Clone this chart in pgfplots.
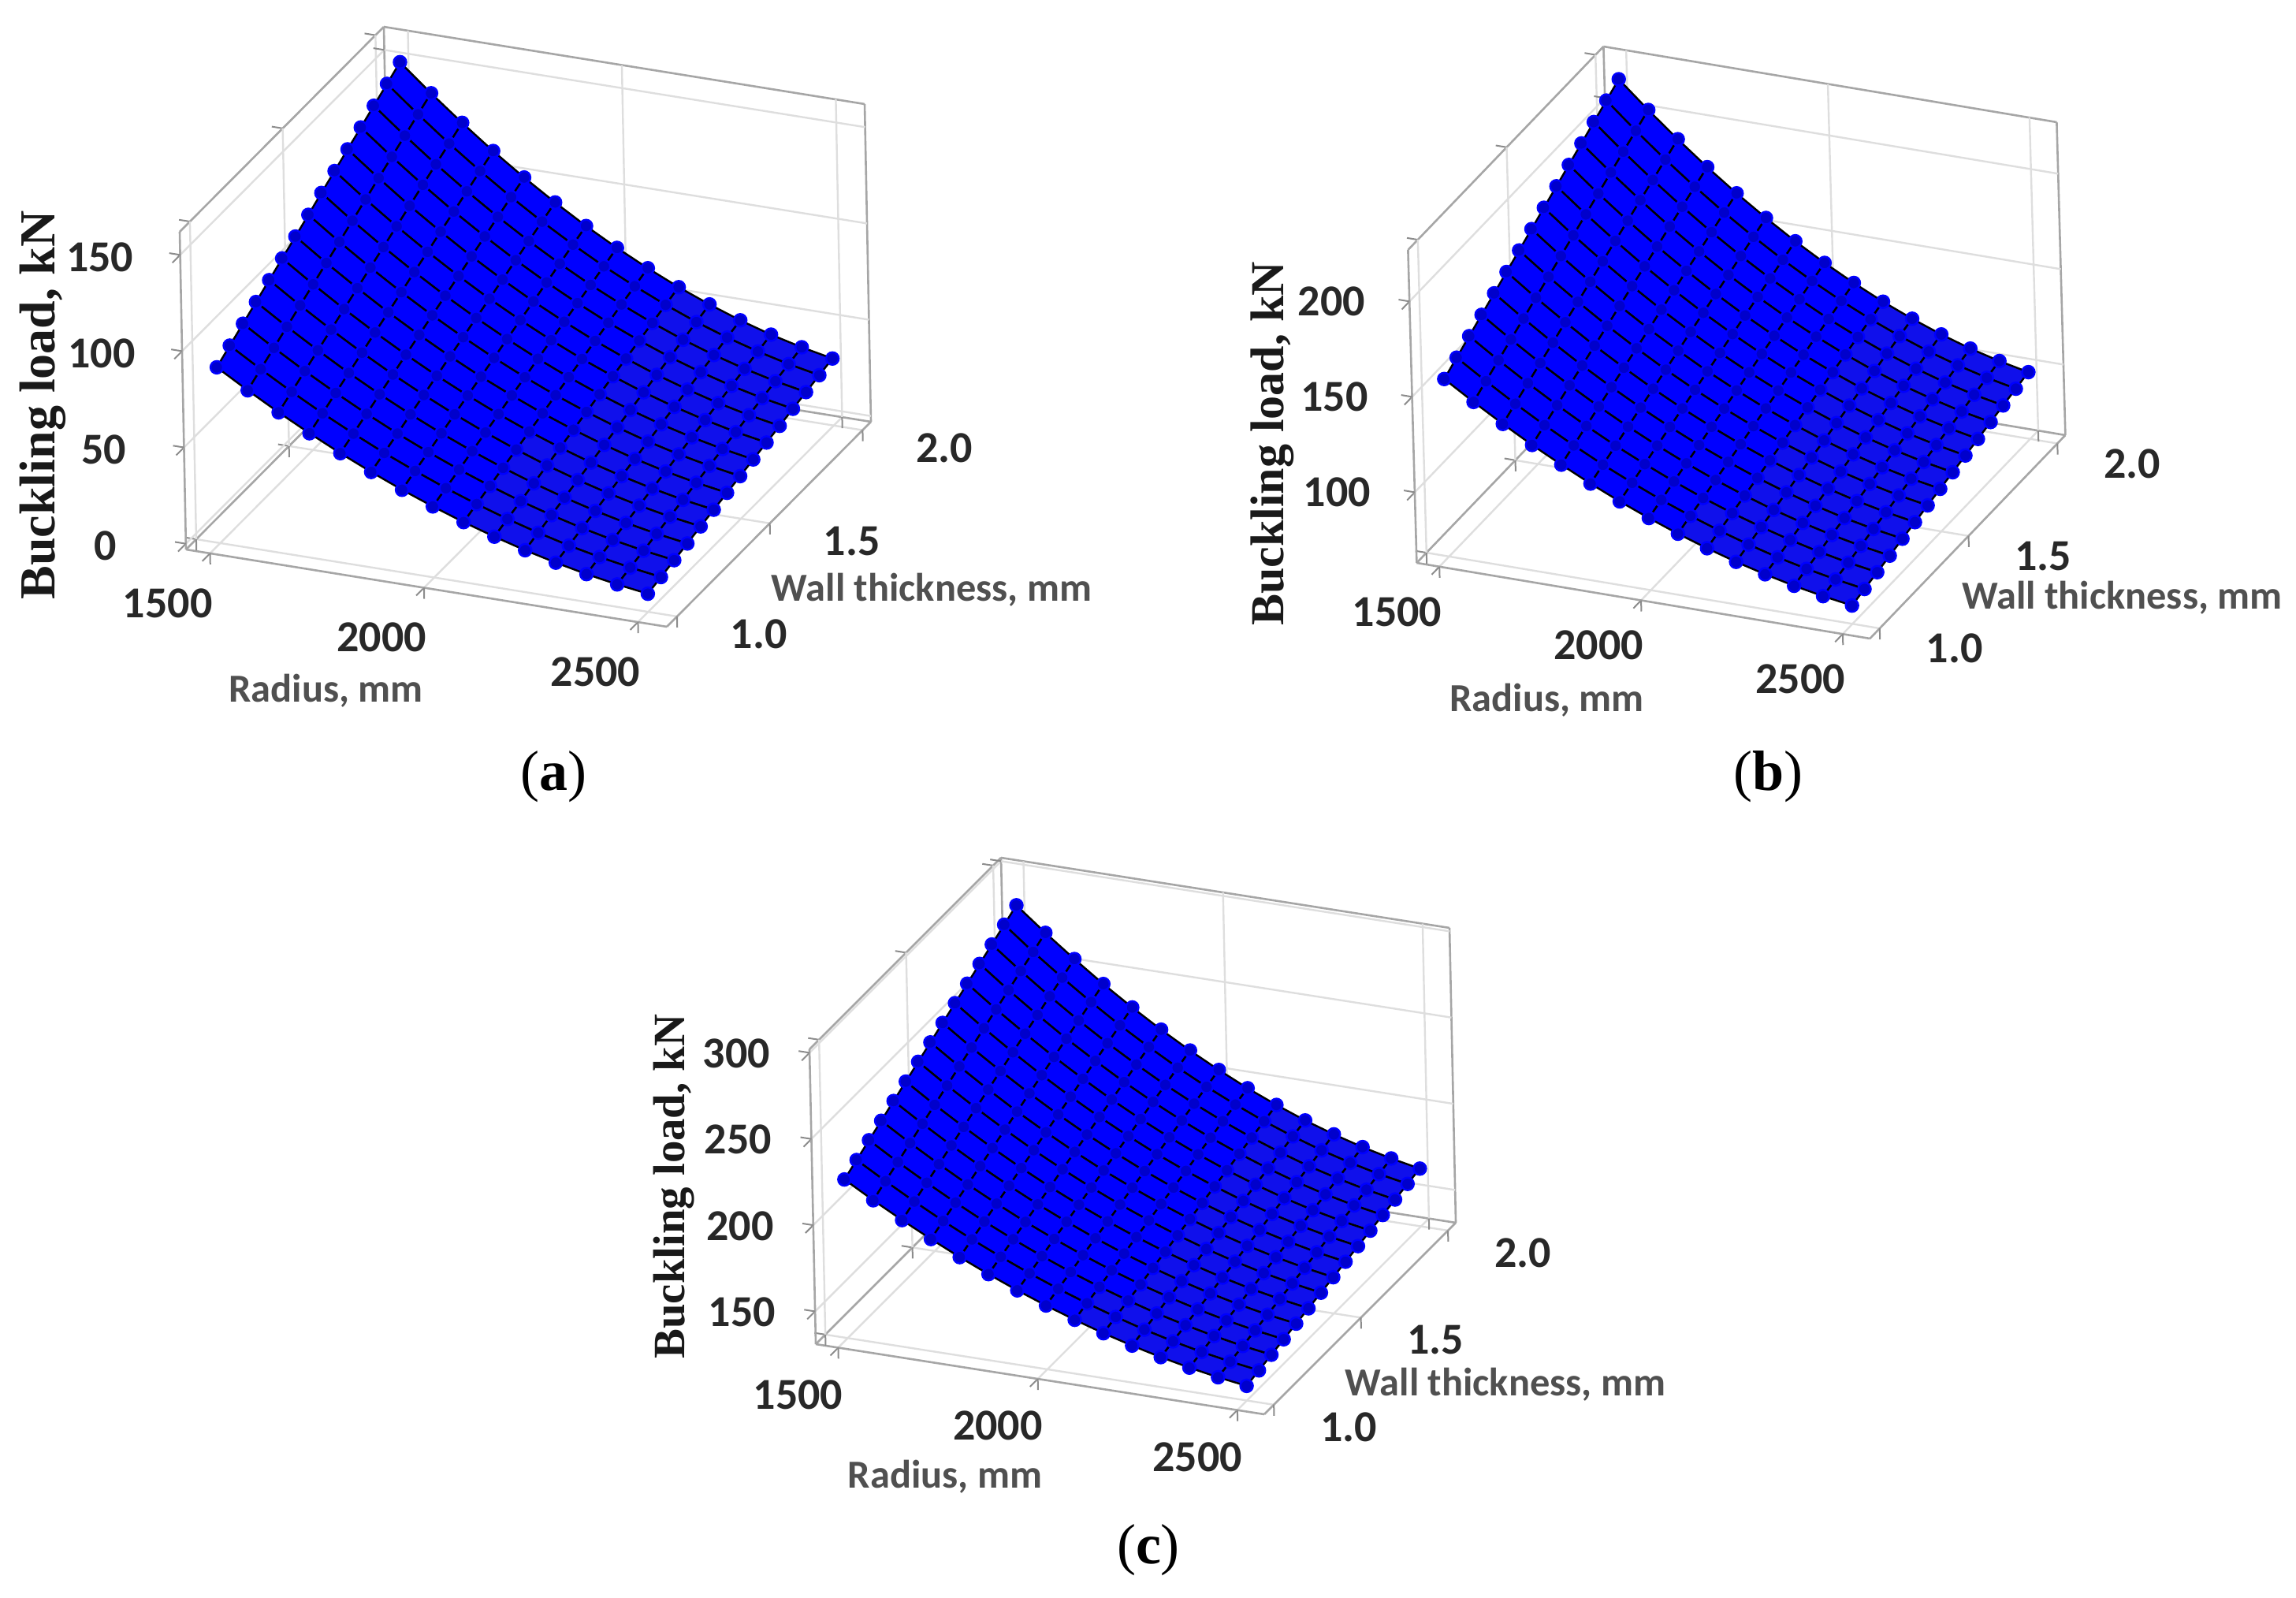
\documentclass[border=0pt]{standalone}
\usepackage{fontspec}
\setmainfont{Liberation Serif}
\newfontfamily\carl{Carlito}
\usepackage{pgfplots}
\usepackage{pgfplotstable}
\pgfplotsset{compat=1.18}

\definecolor{surfblue}{RGB}{16,16,235}
\definecolor{ticktext}{RGB}{40,40,40}
\definecolor{labeltext}{RGB}{80,80,80}

% r = radius, t = wall thickness, a b c = buckling load in the three panels
\pgfplotstableread{
r t a b c
1500 1.000 88.3 156.0 223.0
1500 1.071 92.7 160.3 227.1
1500 1.143 97.1 164.6 231.3
1500 1.214 101.5 168.9 235.4
1500 1.286 105.9 173.2 239.6
1500 1.357 110.3 177.5 243.7
1500 1.429 114.7 181.8 247.9
1500 1.500 119.1 186.1 252.0
1500 1.571 123.6 190.4 256.1
1500 1.643 128.0 194.7 260.3
1500 1.714 132.4 199.0 264.4
1500 1.786 136.8 203.3 268.6
1500 1.857 141.2 207.6 272.7
1500 1.929 145.6 211.9 276.9
1500 2.000 150.0 216.2 281.0
1571.4 1.000 78.9 146.5 213.5
1571.4 1.071 83.0 150.5 217.4
1571.4 1.143 87.1 154.5 221.2
1571.4 1.214 91.2 158.5 225.1
1571.4 1.286 95.3 162.5 229.0
1571.4 1.357 99.4 166.5 232.8
1571.4 1.429 103.5 170.5 236.7
1571.4 1.500 107.6 174.5 240.6
1571.4 1.571 111.7 178.5 244.4
1571.4 1.643 115.8 182.5 248.3
1571.4 1.714 120.0 186.5 252.1
1571.4 1.786 124.1 190.6 256.0
1571.4 1.857 128.2 194.6 259.9
1571.4 1.929 132.3 198.6 263.7
1571.4 2.000 136.4 202.6 267.6
1642.9 1.000 70.0 137.5 204.6
1642.9 1.071 73.8 141.2 208.2
1642.9 1.143 77.6 145.0 211.8
1642.9 1.214 81.5 148.7 215.4
1642.9 1.286 85.3 152.4 219.0
1642.9 1.357 89.1 156.2 222.6
1642.9 1.429 93.0 159.9 226.2
1642.9 1.500 96.8 163.6 229.8
1642.9 1.571 100.6 167.4 233.4
1642.9 1.643 104.4 171.1 237.0
1642.9 1.714 108.2 174.8 240.6
1642.9 1.786 112.1 178.6 244.2
1642.9 1.857 115.9 182.3 247.8
1642.9 1.929 119.7 186.0 251.4
1642.9 2.000 123.6 189.8 255.0
1714.3 1.000 61.7 129.0 196.2
1714.3 1.071 65.2 132.5 199.5
1714.3 1.143 68.8 136.0 202.9
1714.3 1.214 72.3 139.5 206.2
1714.3 1.286 75.9 142.9 209.6
1714.3 1.357 79.5 146.4 212.9
1714.3 1.429 83.0 149.9 216.3
1714.3 1.500 86.6 153.4 219.6
1714.3 1.571 90.2 156.9 223.0
1714.3 1.643 93.7 160.3 226.3
1714.3 1.714 97.3 163.8 229.7
1714.3 1.786 100.8 167.3 233.0
1714.3 1.857 104.4 170.8 236.4
1714.3 1.929 108.0 174.3 239.8
1714.3 2.000 111.5 177.7 243.1
1785.7 1.000 53.9 121.2 188.3
1785.7 1.071 57.2 124.4 191.4
1785.7 1.143 60.5 127.6 194.5
1785.7 1.214 63.8 130.9 197.7
1785.7 1.286 67.1 134.1 200.8
1785.7 1.357 70.5 137.4 203.9
1785.7 1.429 73.8 140.6 207.0
1785.7 1.500 77.1 143.8 210.2
1785.7 1.571 80.4 147.1 213.3
1785.7 1.643 83.7 150.3 216.4
1785.7 1.714 87.0 153.6 219.6
1785.7 1.786 90.4 156.8 222.7
1785.7 1.857 93.7 160.0 225.8
1785.7 1.929 97.0 163.3 228.9
1785.7 2.000 100.3 166.5 232.1
1857.1 1.000 46.7 113.8 181.0
1857.1 1.071 49.7 116.8 183.9
1857.1 1.143 52.8 119.8 186.8
1857.1 1.214 55.9 122.9 189.7
1857.1 1.286 59.0 125.9 192.6
1857.1 1.357 62.1 128.9 195.5
1857.1 1.429 65.2 131.9 198.5
1857.1 1.500 68.3 135.0 201.4
1857.1 1.571 71.4 138.0 204.3
1857.1 1.643 74.4 141.0 207.2
1857.1 1.714 77.5 144.0 210.1
1857.1 1.786 80.6 147.0 213.0
1857.1 1.857 83.7 150.0 216.0
1857.1 1.929 86.8 153.1 218.9
1857.1 2.000 89.9 156.1 221.8
1928.6 1.000 40.0 107.0 174.2
1928.6 1.071 42.9 109.9 176.9
1928.6 1.143 45.7 112.7 179.6
1928.6 1.214 48.6 115.5 182.4
1928.6 1.286 51.5 118.3 185.1
1928.6 1.357 54.4 121.1 187.8
1928.6 1.429 57.2 123.9 190.5
1928.6 1.500 60.1 126.7 193.2
1928.6 1.571 63.0 129.5 196.0
1928.6 1.643 65.9 132.4 198.7
1928.6 1.714 68.7 135.2 201.4
1928.6 1.786 71.6 138.0 204.1
1928.6 1.857 74.5 140.8 206.8
1928.6 1.929 77.4 143.6 209.5
1928.6 2.000 80.2 146.4 212.3
2000 1.000 33.9 100.8 168.0
2000 1.071 36.5 103.4 170.5
2000 1.143 39.2 106.1 173.0
2000 1.214 41.9 108.7 175.6
2000 1.286 44.6 111.3 178.1
2000 1.357 47.3 114.0 180.7
2000 1.429 50.0 116.6 183.2
2000 1.500 52.6 119.2 185.8
2000 1.571 55.3 121.8 188.3
2000 1.643 58.0 124.5 190.8
2000 1.714 60.7 127.1 193.4
2000 1.786 63.4 129.7 195.9
2000 1.857 66.0 132.4 198.5
2000 1.929 68.7 135.0 201.0
2000 2.000 71.4 137.6 203.6
2071.4 1.000 28.3 95.1 162.3
2071.4 1.071 30.8 97.6 164.7
2071.4 1.143 33.3 100.0 167.0
2071.4 1.214 35.8 102.5 169.4
2071.4 1.286 38.3 105.0 171.8
2071.4 1.357 40.8 107.4 174.2
2071.4 1.429 43.3 109.9 176.6
2071.4 1.500 45.8 112.3 179.0
2071.4 1.571 48.3 114.8 181.3
2071.4 1.643 50.8 117.3 183.7
2071.4 1.714 53.3 119.7 186.1
2071.4 1.786 55.8 122.2 188.5
2071.4 1.857 58.4 124.6 190.9
2071.4 1.929 60.9 127.1 193.3
2071.4 2.000 63.4 129.6 195.6
2142.9 1.000 23.3 90.0 157.1
2142.9 1.071 25.6 92.3 159.4
2142.9 1.143 27.9 94.6 161.6
2142.9 1.214 30.3 96.9 163.8
2142.9 1.286 32.6 99.2 166.1
2142.9 1.357 35.0 101.5 168.3
2142.9 1.429 37.3 103.8 170.6
2142.9 1.500 39.7 106.1 172.8
2142.9 1.571 42.0 108.5 175.0
2142.9 1.643 44.4 110.8 177.3
2142.9 1.714 46.7 113.1 179.5
2142.9 1.786 49.1 115.4 181.8
2142.9 1.857 51.4 117.7 184.0
2142.9 1.929 53.8 120.0 186.2
2142.9 2.000 56.1 122.3 188.5
2214.3 1.000 18.8 85.4 152.5
2214.3 1.071 21.0 87.6 154.6
2214.3 1.143 23.2 89.8 156.7
2214.3 1.214 25.4 91.9 158.9
2214.3 1.286 27.6 94.1 161.0
2214.3 1.357 29.8 96.3 163.1
2214.3 1.429 32.0 98.5 165.2
2214.3 1.500 34.2 100.6 167.3
2214.3 1.571 36.4 102.8 169.4
2214.3 1.643 38.6 105.0 171.5
2214.3 1.714 40.8 107.1 173.7
2214.3 1.786 43.0 109.3 175.8
2214.3 1.857 45.2 111.5 177.9
2214.3 1.929 47.4 113.7 180.0
2214.3 2.000 49.7 115.9 182.1
2285.7 1.000 14.9 81.4 148.4
2285.7 1.071 16.9 83.4 150.4
2285.7 1.143 19.0 85.5 152.5
2285.7 1.214 21.1 87.6 154.5
2285.7 1.286 23.2 89.6 156.5
2285.7 1.357 25.3 91.7 158.5
2285.7 1.429 27.3 93.7 160.5
2285.7 1.500 29.4 95.8 162.5
2285.7 1.571 31.5 97.8 164.5
2285.7 1.643 33.6 99.9 166.5
2285.7 1.714 35.7 102.0 168.5
2285.7 1.786 37.8 104.0 170.5
2285.7 1.857 39.8 106.1 172.5
2285.7 1.929 41.9 108.1 174.5
2285.7 2.000 44.0 110.2 176.6
2357.1 1.000 11.5 77.9 144.9
2357.1 1.071 13.5 79.9 146.8
2357.1 1.143 15.4 81.8 148.8
2357.1 1.214 17.4 83.8 150.7
2357.1 1.286 19.4 85.7 152.6
2357.1 1.357 21.4 87.7 154.5
2357.1 1.429 23.3 89.7 156.4
2357.1 1.500 25.3 91.6 158.4
2357.1 1.571 27.3 93.6 160.3
2357.1 1.643 29.3 95.5 162.2
2357.1 1.714 31.2 97.5 164.1
2357.1 1.786 33.2 99.5 166.0
2357.1 1.857 35.2 101.4 168.0
2357.1 1.929 37.2 103.4 169.9
2357.1 2.000 39.1 105.3 171.8
2428.6 1.000 8.7 75.0 141.9
2428.6 1.071 10.6 76.9 143.8
2428.6 1.143 12.4 78.7 145.6
2428.6 1.214 14.3 80.6 147.5
2428.6 1.286 16.2 82.5 149.3
2428.6 1.357 18.1 84.4 151.2
2428.6 1.429 20.0 86.2 153.0
2428.6 1.500 21.9 88.1 154.9
2428.6 1.571 23.8 90.0 156.7
2428.6 1.643 25.6 91.9 158.5
2428.6 1.714 27.5 93.8 160.4
2428.6 1.786 29.4 95.6 162.2
2428.6 1.857 31.3 97.5 164.1
2428.6 1.929 33.2 99.4 165.9
2428.6 2.000 35.1 101.3 167.8
2500 1.000 6.4 72.6 139.5
2500 1.071 8.2 74.4 141.3
2500 1.143 10.0 76.2 143.1
2500 1.214 11.8 78.0 144.9
2500 1.286 13.7 79.9 146.7
2500 1.357 15.5 81.7 148.4
2500 1.429 17.3 83.5 150.2
2500 1.500 19.1 85.3 152.0
2500 1.571 20.9 87.1 153.8
2500 1.643 22.7 88.9 155.6
2500 1.714 24.5 90.7 157.4
2500 1.786 26.4 92.6 159.2
2500 1.857 28.2 94.4 161.0
2500 1.929 30.0 96.2 162.8
2500 2.000 31.8 98.0 164.5
}\grid

\pgfplotsset{
  panel/.style={
    anchor=south west,
    clip=false,
    xmin=1443.8, xmax=2567.4,
    ymin=0.945, ymax=2.045,
    xtick={1500,2000,2500}, xticklabels={1500,2000,2500},
    ytick={1,1.5,2}, yticklabels={1.0,1.5,2.0},
    xtick pos=left, ytick pos=left, ztick pos=left,
    grid=major,
    grid style={black!13, line width=0.6pt},
    axis line style={black!35, line width=0.65pt},
    tick style={black!45, line width=0.5pt},
    tick align=outside,
    major tick length=3.5pt,
    tick label style={font=\carl\bfseries\fontsize{14}{14}\selectfont, text=ticktext, anchor=center},
    xlabel={Radius, mm},
    ylabel={Wall thickness, mm},
    zlabel={Buckling load, kN},
    colormap={flatblue}{rgb255(0cm)=(16,16,235); rgb255(1cm)=(16,16,235)},
    every axis plot/.append style={
      surf, mark=none, shader=faceted, faceted color=black, line width=0.6pt,
      mesh/ordering=y varies, mesh/rows=15, mesh/cols=15},
  },
  xlab/.style 2 args={xlabel style={at={(rel axis cs:0,0,0)}, anchor=center, xshift=#1, yshift=#2,
    font=\carl\bfseries\fontsize{12.6}{13}\selectfont, text=labeltext}},
  ylab/.style 2 args={ylabel style={at={(rel axis cs:0,0,0)}, anchor=center, xshift=#1, yshift=#2,
    font=\carl\bfseries\fontsize{12.6}{13}\selectfont, text=labeltext}},
  % the z label is already turned by 90 degrees, so its shifts are turned too
  zlab/.style n args={3}{zlabel style={at={(rel axis cs:0,0,0)}, anchor=center, xshift=#2, yshift=-#1,
    font=\bfseries\fontsize{#3}{#3}\selectfont, text=black!90}},
}

\begin{document}
\begin{tikzpicture}
\path[use as bounding box] (0,0) rectangle (728.25pt,506.5pt);

% (a)
\begin{axis}[panel, at={(57pt,307.75pt)},
  x={(0.13572pt,-0.02180pt)}, y={(58.86pt,59.09pt)}, z={(-0.01212pt,0.61061pt)},
  zmin=-3, zmax=162, ztick={0,50,100,150}, zticklabels={0,50,100,150},
  xticklabel style={xshift=-11pt, yshift=-13.25pt},
  yticklabel style={xshift=22.5pt, yshift=-5pt},
  zticklabel style={xshift=-23pt, yshift=1.75pt},
  xlab={44.4pt}{-44.75pt}, ylab={236.5pt}{-12.75pt}, zlab={-45.5pt}{45.75pt}{16}]
  \addplot3 table[x=r, y=t, z=a] {\grid};
\end{axis}

% (b)
\begin{axis}[panel, at={(446.6pt,304pt)},
  x={(0.12794pt,-0.02136pt)}, y={(56.36pt,58.64pt)}, z={(-0.01677pt,0.60518pt)},
  zmin=63, zmax=227, ztick={100,150,200}, zticklabels={100,150,200},
  xticklabel style={xshift=-11pt, yshift=-11.75pt},
  yticklabel style={xshift=20.25pt, yshift=-5.75pt},
  zticklabel style={xshift=-22.25pt, yshift=2.6pt},
  xlab={41.25pt}{-43.5pt}, ylab={223.75pt}{-11pt}, zlab={-45.75pt}{37.75pt}{15}]
  \addplot3 table[x=r, y=t, z=b] {\grid};
\end{axis}

% (c)
\begin{axis}[panel, at={(256.75pt,58pt)},
  x={(0.12660pt,-0.01980pt)}, y={(55.23pt,55.23pt)}, z={(-0.01170pt,0.54678pt)},
  zmin=131, zmax=302, ztick={150,200,250,300}, zticklabels={150,200,250,300},
  xticklabel style={xshift=-10.25pt, yshift=-12.4pt},
  yticklabel style={xshift=20.25pt, yshift=-6.5pt},
  zticklabel style={xshift=-20.75pt, yshift=2.25pt},
  xlab={41pt}{-42pt}, ylab={218.75pt}{-12.75pt}, zlab={-45pt}{50pt}{14.2}]
  \addplot3 table[x=r, y=t, z=c] {\grid};
\end{axis}

\node[font=\fontsize{18}{18}\selectfont] at (175.5pt,260.25pt) {(\textbf{a})};
\node[font=\fontsize{18}{18}\selectfont] at (560.75pt,260.25pt) {(\textbf{b})};
\node[font=\fontsize{18}{18}\selectfont] at (364.25pt,15pt) {(\textbf{c})};
\end{tikzpicture}
\end{document}
